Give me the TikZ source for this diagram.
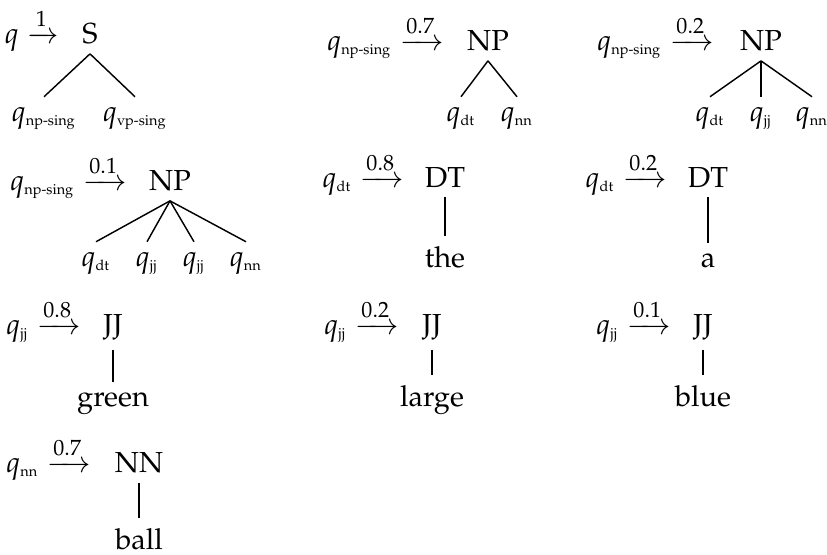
\documentclass[tikz,border=0pt]{standalone}
\usepackage[T1]{fontenc}
\usepackage{mathpazo}
\usepackage{amsmath,amssymb}
\usetikzlibrary{positioning}

\newcommand{\st}[1]{q_{\text{\tiny #1}}}

\begin{document}
\begin{tikzpicture}[x=0.345pt, y=-0.345pt,
  head/.style={anchor=base east, inner sep=0pt},
  cat/.style={anchor=base},
  leaf/.style={anchor=base},
  branch/.style={line width=0.5pt},
  ]
\useasboundingbox (0,0) rectangle (827,555);

% ======================================================================
% ROW 1: start rule and the two binary/ternary NP rules
% ======================================================================
\node[head] (h1) at (60,43) {$q \xrightarrow{1}$};
\node[cat] (r1) at (90,43) {S};
\node[leaf] (l1a) at (44,121) {$\st{np-sing}$};
\node[leaf] (l1b) at (135,121) {$\st{vp-sing}$};
\foreach \c in {l1a,l1b}
  \draw[branch] (r1.south) -- (\c.north);

\node[head] (h2) at (445,50) {$\st{np-sing} \xrightarrow{0.7}$};
\node[cat] (r2) at (488,50) {NP};
\node[leaf] (l2a) at (461,121) {$\st{dt}$};
\node[leaf] (l2b) at (517,121) {$\st{nn}$};
\foreach \c in {l2a,l2b}
  \draw[branch] (r2.south) -- (\c.north);

\node[head] (h3) at (715,50) {$\st{np-sing} \xrightarrow{0.2}$};
\node[cat] (r3) at (761,50) {NP};
\node[leaf] (l3a) at (710,121) {$\st{dt}$};
\node[leaf] (l3b) at (761,121) {$\st{jj}$};
\node[leaf] (l3c) at (812,121) {$\st{nn}$};
\foreach \c in {l3a,l3b,l3c}
  \draw[branch] (r3.south) -- (\c.north);

% ======================================================================
% ROW 2: long NP rule and determiners
% ======================================================================
\node[head] (h4) at (128,190) {$\st{np-sing} \xrightarrow{0.1}$};
\node[cat] (r4) at (170,190) {NP};
\node[leaf] (l4a) at (96,266) {$\st{dt}$};
\node[leaf] (l4b) at (147,266) {$\st{jj}$};
\node[leaf] (l4c) at (194,266) {$\st{jj}$};
\node[leaf] (l4d) at (246,266) {$\st{nn}$};
\foreach \c in {l4a,l4b,l4c,l4d}
  \draw[branch] (r4.south) -- (\c.north);

\node[head] (h5) at (405,187) {$\st{dt} \xrightarrow{0.8}$};
\node[cat] (r5) at (445,187) {DT};
\node[leaf] (w5) at (445,267) {the};
\draw[branch] (r5.south) -- (w5.north);

\node[head] (h6) at (668,187) {$\st{dt} \xrightarrow{0.2}$};
\node[cat] (r6) at (708,187) {DT};
\node[leaf] (w6) at (708,267) {a};
\draw[branch] (r6.south) -- (w6.north);

% ======================================================================
% ROW 3: adjectives
% ======================================================================
\node[head] (h7) at (82,334) {$\st{jj} \xrightarrow{0.8}$};
\node[cat] (r7) at (113,334) {JJ};
\node[leaf] (w7) at (113,406) {green};
\draw[branch] (r7.south) -- (w7.north);

\node[head] (h8) at (400,334) {$\st{jj} \xrightarrow{0.2}$};
\node[cat] (r8) at (432,334) {JJ};
\node[leaf] (w8) at (432,406) {large};
\draw[branch] (r8.south) -- (w8.north);

\node[head] (h9) at (672,334) {$\st{jj} \xrightarrow{0.1}$};
\node[cat] (r9) at (703,334) {JJ};
\node[leaf] (w9) at (703,406) {blue};
\draw[branch] (r9.south) -- (w9.north);

% ======================================================================
% ROW 4: noun
% ======================================================================
\node[head] (h10) at (92,472) {$\st{nn} \xrightarrow{0.7}$};
\node[cat] (r10) at (139,472) {NN};
\node[leaf] (w10) at (139,549) {ball};
\draw[branch] (r10.south) -- (w10.north);

\end{tikzpicture}
\end{document}
